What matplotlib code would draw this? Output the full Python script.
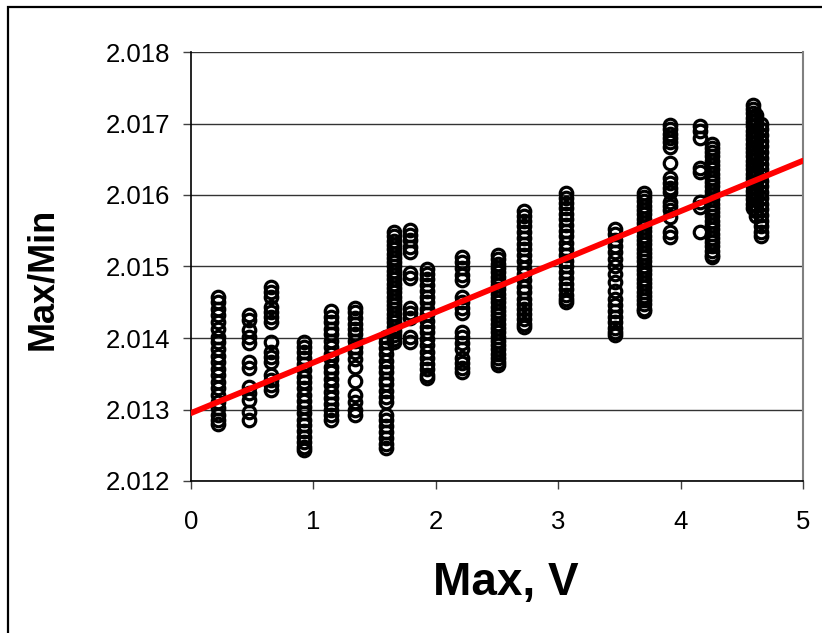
import matplotlib
matplotlib.use('Agg')
import matplotlib.pyplot as plt
from matplotlib.patches import Rectangle

# x position (Max, V) of each measurement group
group_x = [0.22, 0.47, 0.65, 0.92, 1.14, 1.34, 1.59, 1.66, 1.79, 1.93, 2.21,
           2.51, 2.72, 3.06, 3.46, 3.70, 3.91, 4.16, 4.26, 4.59, 4.62, 4.66]

# Max/Min readings in each group
g01 = [2.01457, 2.01450, 2.01440, 2.01432, 2.01422, 2.01412, 2.01402, 2.01395, 2.01385, 2.01375, 2.01366,
       2.01356, 2.01348, 2.01338, 2.01330, 2.01320, 2.01310, 2.01302, 2.01292, 2.01285, 2.01280]
g02 = [2.01432, 2.01425, 2.01411, 2.01401, 2.01393, 2.01366, 2.01358, 2.01331, 2.01323, 2.01313, 2.01297, 2.01285]
g03 = [2.01471, 2.01464, 2.01457, 2.01443, 2.01436, 2.01429, 2.01422, 2.01394, 2.01380, 2.01373, 2.01366,
       2.01348, 2.01341, 2.01334, 2.01327]
g04 = [2.01395, 2.01388, 2.01380, 2.01372, 2.01363, 2.01355, 2.01346, 2.01338, 2.01330, 2.01320, 2.01312,
       2.01303, 2.01295, 2.01286, 2.01278, 2.01270, 2.01262, 2.01254, 2.01247, 2.01243]
g05 = [2.01438, 2.01430, 2.01422, 2.01413, 2.01405, 2.01396, 2.01388, 2.01378, 2.01370, 2.01360, 2.01352,
       2.01343, 2.01334, 2.01325, 2.01316, 2.01308, 2.01300, 2.01292, 2.01285]
g06 = [2.01442, 2.01436, 2.01428, 2.01420, 2.01412, 2.01405, 2.01396, 2.01388, 2.01380, 2.01371, 2.01360,
       2.01340, 2.01320, 2.01310, 2.01300, 2.01292]
g07 = [2.01402, 2.01395, 2.01386, 2.01377, 2.01368, 2.01360, 2.01352, 2.01343, 2.01335, 2.01326, 2.01317,
       2.01310, 2.01293, 2.01285, 2.01277, 2.01268, 2.01260, 2.01252, 2.01246]
g08 = [2.01548, 2.01542, 2.01536, 2.01530, 2.01524, 2.01518, 2.01512, 2.01506, 2.01500, 2.01494, 2.01488,
       2.01482, 2.01476, 2.01470, 2.01464, 2.01458, 2.01452, 2.01446, 2.01440, 2.01434, 2.01428, 2.01422,
       2.01416, 2.01410, 2.01404, 2.01398, 2.01394]
g09 = [2.01551, 2.01544, 2.01537, 2.01527, 2.01520, 2.01491, 2.01484, 2.01442, 2.01435, 2.01428, 2.01401, 2.01394]
g10 = [2.01496, 2.01489, 2.01482, 2.01474, 2.01466, 2.01458, 2.01450, 2.01441, 2.01433, 2.01424, 2.01416,
       2.01408, 2.01398, 2.01390, 2.01381, 2.01372, 2.01364, 2.01356, 2.01348, 2.01344]
g11 = [2.01513, 2.01506, 2.01498, 2.01488, 2.01481, 2.01457, 2.01450, 2.01442, 2.01435, 2.01408, 2.01401,
       2.01393, 2.01385, 2.01372, 2.01365, 2.01358, 2.01352]
g12 = [2.01516, 2.01510, 2.01504, 2.01498, 2.01492, 2.01486, 2.01480, 2.01474, 2.01468, 2.01462, 2.01456,
       2.01450, 2.01444, 2.01438, 2.01432, 2.01426, 2.01420, 2.01414, 2.01408, 2.01402, 2.01396, 2.01390,
       2.01384, 2.01378, 2.01372, 2.01366, 2.01362]
g13 = [2.01577, 2.01570, 2.01563, 2.01556, 2.01548, 2.01540, 2.01532, 2.01524, 2.01516, 2.01507, 2.01498,
       2.01490, 2.01481, 2.01472, 2.01464, 2.01455, 2.01447, 2.01440, 2.01433, 2.01426, 2.01420, 2.01416]
g14 = [2.01603, 2.01596, 2.01589, 2.01582, 2.01574, 2.01566, 2.01558, 2.01550, 2.01542, 2.01533, 2.01524,
       2.01516, 2.01508, 2.01500, 2.01492, 2.01484, 2.01476, 2.01468, 2.01460, 2.01454, 2.01450]
g15 = [2.01552, 2.01545, 2.01537, 2.01528, 2.01520, 2.01510, 2.01500, 2.01490, 2.01478, 2.01466, 2.01455,
       2.01446, 2.01438, 2.01430, 2.01422, 2.01414, 2.01408, 2.01404]
g16 = [2.01603, 2.01597, 2.01591, 2.01585, 2.01579, 2.01573, 2.01567, 2.01561, 2.01555, 2.01549, 2.01543,
       2.01537, 2.01531, 2.01525, 2.01519, 2.01513, 2.01507, 2.01501, 2.01495, 2.01489, 2.01483, 2.01477,
       2.01471, 2.01465, 2.01459, 2.01453, 2.01447, 2.01441, 2.01438]
g17 = [2.01698, 2.01692, 2.01686, 2.01680, 2.01674, 2.01667, 2.01645, 2.01624, 2.01617, 2.01610, 2.01604,
       2.01590, 2.01585, 2.01579, 2.01569, 2.01548, 2.01541]
g18 = [2.01696, 2.01690, 2.01680, 2.01638, 2.01632, 2.01590, 2.01583, 2.01548]
g19 = [2.01672, 2.01666, 2.01660, 2.01654, 2.01648, 2.01642, 2.01636, 2.01630, 2.01624, 2.01618, 2.01612,
       2.01606, 2.01600, 2.01594, 2.01588, 2.01582, 2.01576, 2.01570, 2.01564, 2.01558, 2.01552, 2.01546,
       2.01540, 2.01534, 2.01528, 2.01522, 2.01516, 2.01513]
g20 = [2.01726, 2.01720, 2.01714, 2.01708, 2.01702, 2.01696, 2.01690, 2.01684, 2.01678, 2.01672, 2.01666,
       2.01660, 2.01654, 2.01648, 2.01642, 2.01636, 2.01630, 2.01624, 2.01618, 2.01612, 2.01606, 2.01600,
       2.01594, 2.01588, 2.01582]
g21 = [2.01712, 2.01705, 2.01698, 2.01690, 2.01682, 2.01674, 2.01666, 2.01658, 2.01650, 2.01642, 2.01634,
       2.01626, 2.01618, 2.01610, 2.01602, 2.01594, 2.01586, 2.01578, 2.01570]
g22 = [2.01700, 2.01692, 2.01684, 2.01676, 2.01668, 2.01660, 2.01652, 2.01644, 2.01636, 2.01628, 2.01620,
       2.01612, 2.01604, 2.01596, 2.01588, 2.01580, 2.01572, 2.01564, 2.01556, 2.01548, 2.01542]

groups = [g01, g02, g03, g04, g05, g06, g07, g08, g09, g10, g11,
          g12, g13, g14, g15, g16, g17, g18, g19, g20, g21, g22]

# linear trendline ends
trend_x = [0, 5]
trend_y = [2.01295, 2.01648]

x_ticks = [0, 1, 2, 3, 4, 5]
y_ticks = [2.012, 2.013, 2.014, 2.015, 2.016, 2.017, 2.018]

# flatten the groups into one scatter series
xs, ys = [], []
for gx, gy in zip(group_x, groups):
    xs += [gx] * len(gy)
    ys += gy

plt.rcParams['font.family'] = ['Liberation Sans', 'DejaVu Sans']

fig = plt.figure(figsize=(8.22, 6.33), dpi=100)
ax = fig.add_axes([191 / 822, 1 - 481 / 633, 612 / 822, 429 / 633])

# outer chart border
fig.patches.append(Rectangle((8 / 822, -0.1), 1.2, 1 - 7 / 633 + 0.1, transform=fig.transFigure,
                             fill=False, edgecolor='black', linewidth=1.6))

for y in y_ticks:
    ax.axhline(y, color='#333333', linewidth=1.0, zorder=1)

ax.plot(xs, ys, linestyle='none', marker='o', markersize=9, markerfacecolor='none',
        markeredgecolor='black', markeredgewidth=2.3, zorder=2)
ax.plot(trend_x, trend_y, color='#ff0000', linewidth=4.2, solid_capstyle='round', zorder=3)

ax.set_xlim(0, 5)
ax.set_ylim(2.012, 2.018)
ax.set_xticks(x_ticks)
ax.set_yticks(y_ticks)
ax.set_yticklabels([f'{v:.3f}' for v in y_ticks])
ax.tick_params(labelsize=18.5, direction='out', length=6, width=1.0, color='#404040')
ax.tick_params(axis='x', pad=15)
ax.tick_params(axis='y', pad=9)

for side in ['left', 'bottom']:
    ax.spines[side].set_color('black')
    ax.spines[side].set_linewidth(1.2)
ax.spines['right'].set_color('#808080')
ax.spines['right'].set_linewidth(1.5)
ax.spines['top'].set_visible(False)

ax.set_xlabel('Max, V', fontsize=33, fontweight='bold', va='center')
ax.xaxis.set_label_coords(0.515, -0.238)
ax.set_ylabel('Max/Min', fontsize=26, fontweight='bold', va='center')
ax.yaxis.set_label_coords(-0.243, 0.47)

fig.savefig('out.png', dpi=100)
